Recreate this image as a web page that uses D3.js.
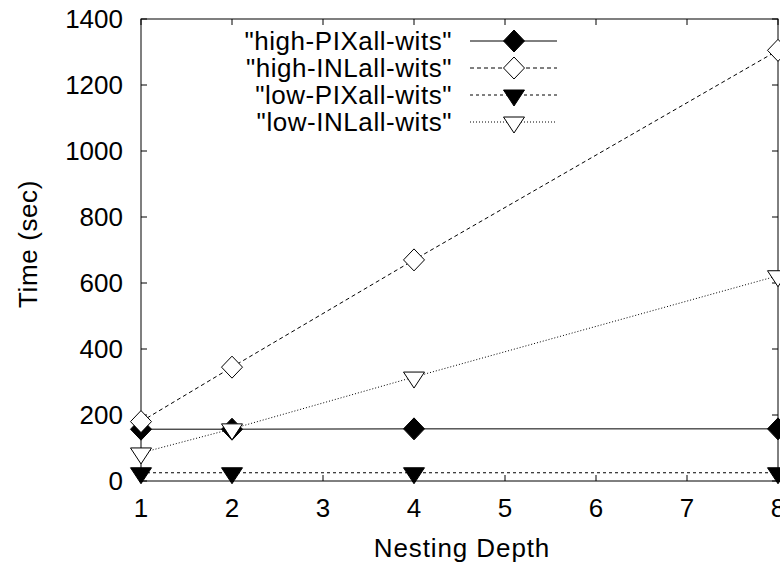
<!DOCTYPE html>
<html><head><meta charset="utf-8">
<script src="https://cdn.jsdelivr.net/npm/d3@7"></script>
<style>body{margin:0;background:#fff}svg{display:block}text{font-family:"Liberation Sans",Arial,sans-serif;fill:#000}</style>
</head><body><svg id="c" width="780" height="563"></svg>
<script>
const depths = [1, 2, 4, 8];
const highPIX = [157, 157, 158, 158];
const highINL = [180, 345, 670, 1305];
const lowPIX = [25, 25, 25, 25];
const lowINL = [85, 158, 315, 622];
const seriesNames = ['"high-PIXall-wits"', '"high-INLall-wits"', '"low-PIXall-wits"', '"low-INLall-wits"'];
const xTicks = [1, 2, 3, 4, 5, 6, 7, 8];
const yTicks = [0, 200, 400, 600, 800, 1000, 1200, 1400];

const series = [
  {name: seriesNames[0], values: highPIX, dash: null, sym: "diamond", fill: "#000"},
  {name: seriesNames[1], values: highINL, dash: "4,3", sym: "diamond", fill: "#fff"},
  {name: seriesNames[2], values: lowPIX, dash: "3,3", sym: "tri", fill: "#000"},
  {name: seriesNames[3], values: lowINL, dash: "1,2", sym: "tri", fill: "#fff"}
];

const L = 141, R = 778, T = 19, B = 481;
const FS = 26;
const svg = d3.select("#c");
const x = d3.scaleLinear().domain([1, 8]).range([L, R]);
const y = d3.scaleLinear().domain([0, 1400]).range([B, T]);

svg.append("rect").attr("x", L).attr("y", T).attr("width", R - L).attr("height", B - T)
  .attr("fill", "none").attr("stroke", "#000").attr("stroke-width", 1);

const tl = 6;
const gx = svg.append("g");
xTicks.forEach(t => {
  gx.append("line").attr("x1", x(t)).attr("x2", x(t)).attr("y1", B).attr("y2", B - tl).attr("stroke", "#000");
  gx.append("line").attr("x1", x(t)).attr("x2", x(t)).attr("y1", T).attr("y2", T + tl).attr("stroke", "#000");
  gx.append("text").attr("x", x(t)).attr("y", B + 36).attr("text-anchor", "middle").attr("font-size", FS).text(t);
});
yTicks.forEach(t => {
  gx.append("line").attr("x1", L).attr("x2", L + tl).attr("y1", y(t)).attr("y2", y(t)).attr("stroke", "#000");
  gx.append("line").attr("x1", R).attr("x2", R - tl).attr("y1", y(t)).attr("y2", y(t)).attr("stroke", "#000");
  gx.append("text").attr("x", L - 18).attr("y", y(t)).attr("dy", "0.36em").attr("text-anchor", "end").attr("font-size", FS).text(t);
});

svg.append("text").attr("transform", "translate(37,244) rotate(-90)")
  .attr("text-anchor", "middle").attr("font-size", FS).attr("letter-spacing", 0.6).text("Time (sec)");
svg.append("text").attr("x", 462).attr("y", 557).attr("text-anchor", "middle").attr("font-size", FS).attr("letter-spacing", 0.9).text("Nesting Depth");

function symPath(type) {
  if (type === "diamond") return "M0,-11L10.5,0L0,11L-10.5,0Z";
  return "M-10.5,-5L10.5,-5L0,11Z";
}

const line = d3.line().x((d, i) => x(depths[i])).y(d => y(d));
series.forEach(s => {
  svg.append("path").attr("d", line(s.values)).attr("fill", "none").attr("stroke", "#000")
    .attr("stroke-width", 1).attr("stroke-dasharray", s.dash);
});
series.forEach(s => {
  s.values.forEach((v, i) => {
    svg.append("path").attr("d", symPath(s.sym)).attr("transform", "translate(" + x(depths[i]) + "," + y(v) + ")")
      .attr("fill", s.fill).attr("stroke", "#000").attr("stroke-width", 1);
  });
});

const legY = [41, 68, 95, 122];
series.forEach((s, i) => {
  const ly = legY[i];
  svg.append("text").attr("x", 452).attr("y", ly).attr("dy", "0.36em").attr("text-anchor", "end")
    .attr("font-size", FS).attr("letter-spacing", 0.55).text(s.name);
  svg.append("line").attr("x1", 470).attr("x2", 557).attr("y1", ly).attr("y2", ly).attr("stroke", "#000")
    .attr("stroke-dasharray", s.dash);
  svg.append("path").attr("d", symPath(s.sym)).attr("transform", "translate(514," + ly + ")")
    .attr("fill", s.fill).attr("stroke", "#000");
});
</script></body></html>
